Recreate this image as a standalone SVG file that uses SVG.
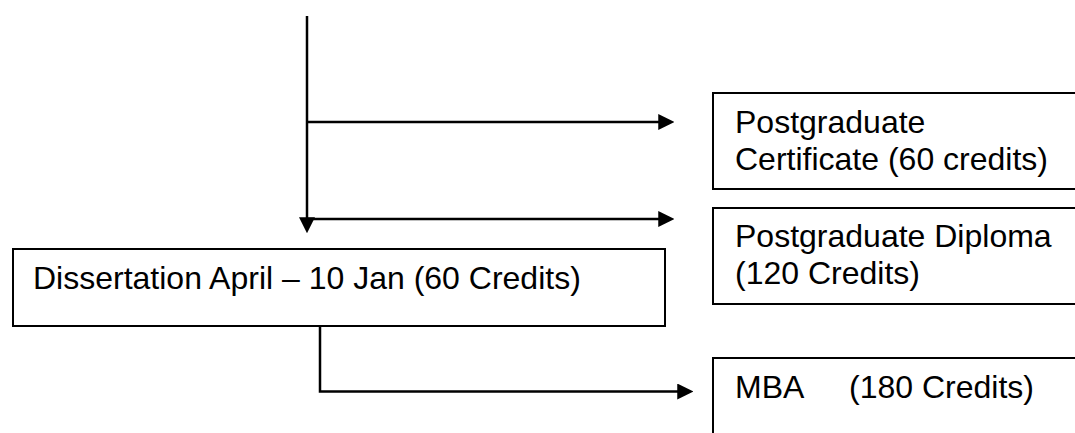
<svg xmlns="http://www.w3.org/2000/svg" width="1075" height="433" viewBox="0 0 1075 433">
<style>
.box{fill:#fff;stroke:#000;stroke-width:2}
.lbl{font-family:"Liberation Sans",Arial,sans-serif;font-size:32px;fill:#000}
.conn{fill:none;stroke:#000;stroke-width:2.5}
</style>
<defs>
<marker id="ah" markerUnits="userSpaceOnUse" markerWidth="16" markerHeight="16" viewBox="0 0 15 15" refX="11" refY="7.5" orient="auto">
<path d="M0,0 L15,7.5 L0,15 z" fill="#000"/>
</marker>
</defs>
<rect width="1075" height="433" fill="#fff"/>
<g id="connectors">
<line class="conn" x1="307" y1="16" x2="307" y2="229" marker-end="url(#ah)"/>
<line class="conn" x1="307" y1="122" x2="670" y2="122" marker-end="url(#ah)"/>
<line class="conn" x1="308" y1="219" x2="670" y2="219" marker-end="url(#ah)"/>
<path class="conn" d="M320,327 V391.5 H689" marker-end="url(#ah)"/>
</g>
<g id="dissertation">
<rect class="box" x="13" y="249" width="652" height="77"/>
<text class="lbl" x="33" y="289">Dissertation April – 10 Jan (60 Credits)</text>
</g>
<g id="pgcert">
<rect class="box" x="713" y="93" width="380" height="96"/>
<text class="lbl" x="735" y="133">Postgraduate</text>
<text class="lbl" x="735" y="170">Certificate (60 credits)</text>
</g>
<g id="pgdip">
<rect class="box" x="713" y="208" width="380" height="96"/>
<text class="lbl" x="735" y="247">Postgraduate Diploma</text>
<text class="lbl" x="735" y="284">(120 Credits)</text>
</g>
<g id="mba">
<rect class="box" x="713" y="358" width="380" height="100"/>
<text class="lbl" x="735" y="398">MBA<tspan x="849">(180 Credits)</tspan></text>
</g>
</svg>
